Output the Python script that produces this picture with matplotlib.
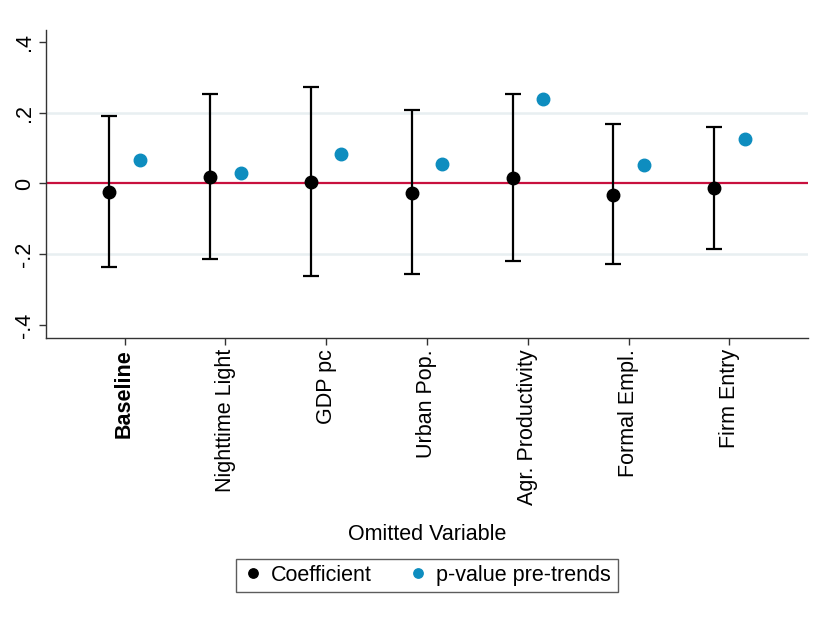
import matplotlib
matplotlib.use("Agg")
import matplotlib.pyplot as plt
import numpy as np

plt.rcParams['font.family'] = ['Liberation Sans', 'DejaVu Sans']

labels = ["Baseline", "Nighttime Light", "GDP pc", "Urban Pop.",
          "Agr. Productivity", "Formal Empl.", "Firm Entry"]
coef = [-0.023, 0.019, 0.004, -0.026, 0.016, -0.032, -0.012]
ci_hi = [0.191, 0.252, 0.272, 0.208, 0.252, 0.167, 0.160]
ci_lo = [-0.237, -0.214, -0.262, -0.255, -0.218, -0.229, -0.185]
pval = [0.066, 0.029, 0.083, 0.054, 0.238, 0.051, 0.127]

yticks = [-0.4, -0.2, 0, 0.2, 0.4]
yticklabels = ["-.4", "-.2", "0", ".2", ".4"]

blue = "#0e8dbf"
red = "#c8103e"
fs = 15.5

fig = plt.figure(figsize=(8.18, 6.19), dpi=100)
ax = fig.add_axes([0.0562, 0.454, 0.9316, 0.4975])

x = np.arange(1, len(labels) + 1)
coef = np.array(coef)
err = [coef - np.array(ci_lo), np.array(ci_hi) - coef]

for yv in [-0.2, 0.2]:
    ax.axhline(yv, color="#e8eff1", lw=1.8, zorder=0)
ax.axhline(0, color=red, lw=1.6, zorder=1)

ax.errorbar(x - 0.15, coef, yerr=err, fmt="none", ecolor="black",
            elinewidth=1.6, capsize=5.5, capthick=1.6, zorder=2)
ax.plot(x - 0.15, coef, "o", color="black", ms=9, zorder=3, label="Coefficient")
ax.plot(x + 0.15, pval, "o", color=blue, ms=9, zorder=3, label="p-value pre-trends")

ax.set_xlim(0.22, 7.78)
ax.set_ylim(-0.437, 0.434)
ax.set_yticks(yticks)
ax.set_yticklabels(yticklabels, rotation=90, va="center", fontsize=fs)
ax.set_xticks(x)
ax.set_xticklabels(labels, rotation=90, fontsize=fs)
ax.get_xticklabels()[0].set_fontweight("bold")
ax.tick_params(length=5, width=1, direction="out", color="#333333")
ax.tick_params(axis="x", pad=3)
ax.tick_params(axis="y", pad=3)
for s in ["top", "right"]:
    ax.spines[s].set_visible(False)
for s in ["left", "bottom"]:
    ax.spines[s].set_linewidth(1)
    ax.spines[s].set_color("#333333")

ax.set_xlabel("Omitted Variable", fontsize=fs, labelpad=14)

leg = fig.legend(loc="center", bbox_to_anchor=(0.522, 0.0703), ncol=2,
                 fontsize=fs, frameon=True, fancybox=False, markerscale=0.75,
                 handletextpad=0.4, columnspacing=1.7, handlelength=0.9,
                 borderpad=0.3, borderaxespad=0)
leg.get_frame().set_edgecolor("#333333")
leg.get_frame().set_linewidth(1)

fig.savefig("out.png", dpi=100)
